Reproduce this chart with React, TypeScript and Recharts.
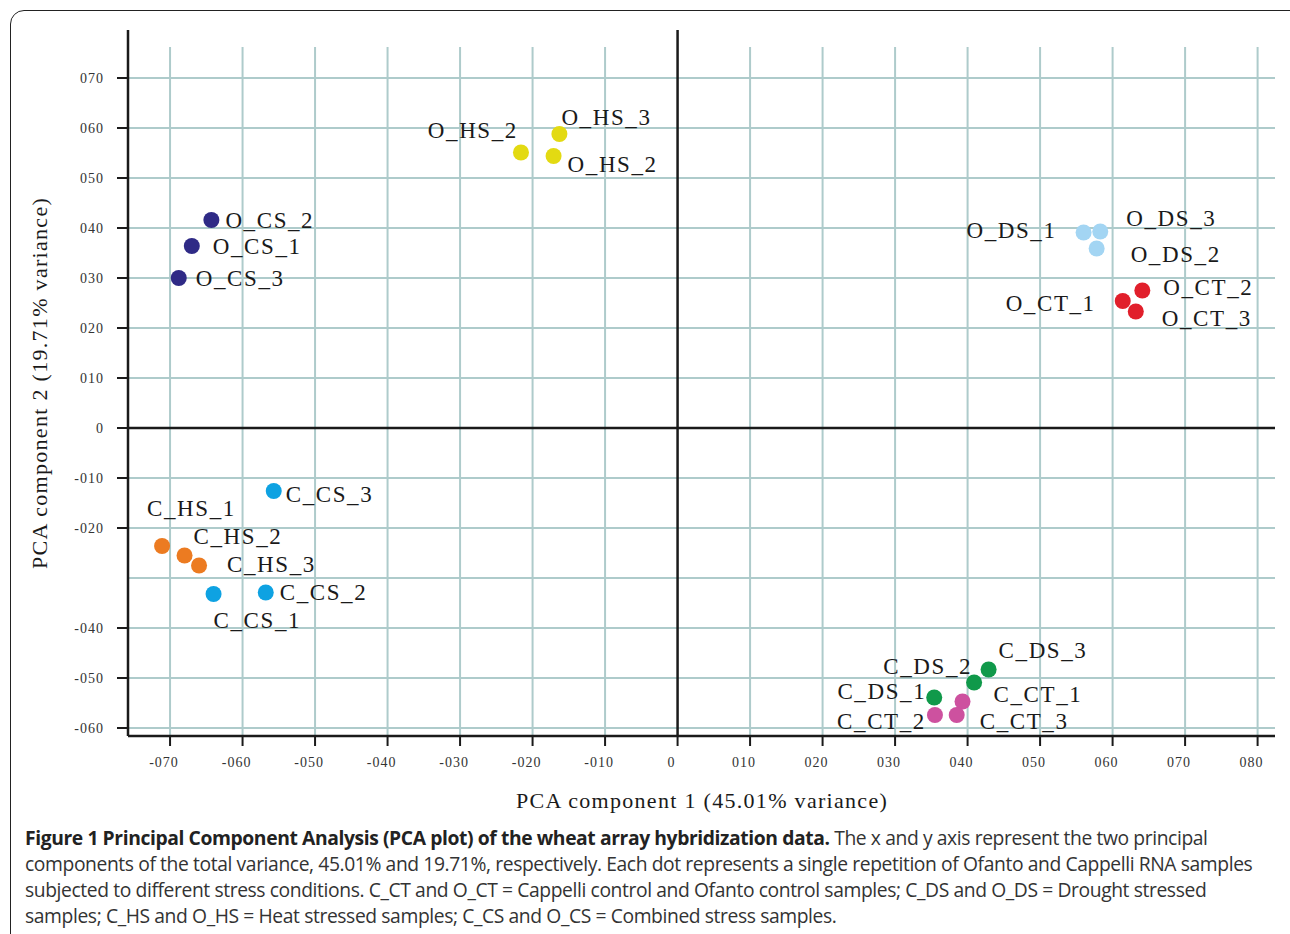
import React from "react";
import { ScatterChart, Scatter, XAxis, YAxis, ReferenceLine } from "recharts";

// sample coordinates
const oCS = [
  { name: "O_CS_2", x: -64.3, y: 41.6 },
  { name: "O_CS_1", x: -67.0, y: 36.4 },
  { name: "O_CS_3", x: -68.8, y: 30.0 },
];
const oHS = [
  { name: "O_HS_2", x: -21.6, y: 55.1 },
  { name: "O_HS_3", x: -16.3, y: 58.8 },
  { name: "O_HS_2", x: -17.1, y: 54.4 },
];
const oDS = [
  { name: "O_DS_1", x: 56.0, y: 39.1 },
  { name: "O_DS_3", x: 58.3, y: 39.3 },
  { name: "O_DS_2", x: 57.8, y: 35.9 },
];
const oCT = [
  { name: "O_CT_1", x: 61.4, y: 25.4 },
  { name: "O_CT_2", x: 64.1, y: 27.5 },
  { name: "O_CT_3", x: 63.2, y: 23.3 },
];
const cCS = [
  { name: "C_CS_3", x: -55.7, y: -12.6 },
  { name: "C_CS_1", x: -64.0, y: -33.2 },
  { name: "C_CS_2", x: -56.8, y: -32.9 },
];
const cHS = [
  { name: "C_HS_1", x: -71.1, y: -23.6 },
  { name: "C_HS_2", x: -68.0, y: -25.5 },
  { name: "C_HS_3", x: -66.0, y: -27.5 },
];
const cDS = [
  { name: "C_DS_3", x: 42.9, y: -48.3 },
  { name: "C_DS_2", x: 40.9, y: -50.9 },
  { name: "C_DS_1", x: 35.4, y: -53.9 },
];
const cCT = [
  { name: "C_CT_1", x: 39.3, y: -54.7 },
  { name: "C_CT_3", x: 38.5, y: -57.4 },
  { name: "C_CT_2", x: 35.5, y: -57.4 },
];

const xTicks = [-70, -60, -50, -40, -30, -20, -10, 0, 10, 20, 30, 40, 50, 60, 70, 80];
const yTicks = [70, 60, 50, 40, 30, 20, 10, 0, -10, -20, -40, -50, -60];
const gridX = [-70, -60, -50, -40, -30, -20, -10, 10, 20, 30, 40, 50, 60, 70, 80];
const gridY = [70, 60, 50, 40, 30, 20, 10, -10, -20, -30, -40, -50, -60];

const X_DOMAIN: [number, number] = [-75.8, 82.4];
const Y_DOMAIN: [number, number] = [-61.6, 79.6];
const GRID_TOP = 76.2;

const SERIF = "'Liberation Serif', 'Times New Roman', serif";
const GRID = "#aecbcb";
const INK = "#1a1a1a";

// label placement per point (pixel offset from dot, text anchor), same order as data
const placement: Record<string, [number, number, "start" | "end"][]> = {
  oCS: [[14, 0, "start"], [21, 0, "start"], [17, 0, "start"]],
  oHS: [[-3, -22, "end"], [2, -17, "start"], [14, 8, "start"]],
  oDS: [[-27, -2, "end"], [26, -13, "start"], [34, 6, "start"]],
  oCT: [[-27, 2, "end"], [21, -3, "start"], [26, 7, "start"]],
  cCS: [[12, 3, "start"], [0, 26, "start"], [14, 0, "start"]],
  cHS: [[-15, -38, "start"], [9, -19, "start"], [28, -1, "start"]],
  cDS: [[10, -19, "start"], [-2, -16, "end"], [-8, -6, "end"]],
  cCT: [[31, -7, "start"], [23, 6, "start"], [-9, 6, "end"]],
};

const series = [
  { key: "oCS", data: oCS, color: "#2f2a86" },
  { key: "oHS", data: oHS, color: "#e3da12" },
  { key: "oDS", data: oDS, color: "#a3d5f3" },
  { key: "oCT", data: oCT, color: "#e11f2b" },
  { key: "cCS", data: cCS, color: "#0ea2e2" },
  { key: "cHS", data: cHS, color: "#ec7b21" },
  { key: "cDS", data: cDS, color: "#10994a" },
  { key: "cCT", data: cCT, color: "#cd519f" },
];

const fmt = (v: number) =>
  v === 0 ? "0" : (v < 0 ? "-" : "") + String(Math.abs(v)).padStart(3, "0");

function makeDot(key: string, data: { name: string; x: number; y: number }[], color: string) {
  return (props: any) => {
    const { cx, cy, payload } = props;
    const i = data.findIndex((d) => d.x === payload.x && d.y === payload.y);
    const [dx, dy, anchor] = placement[key][i] || [12, 0, "start"];
    return (
      <g>
        <circle cx={cx} cy={cy} r={8} fill={color} />
        <text
          x={cx + dx}
          y={cy + dy + 7.8}
          textAnchor={anchor}
          fontFamily={SERIF}
          fontSize={23}
          letterSpacing={1.6}
          fill={INK}
        >
          {payload.name}
        </text>
      </g>
    );
  };
}

export default function App() {
  return (
    <div
      style={{
        position: "absolute",
        left: 0,
        top: 0,
        width: 1290,
        height: 934,
        overflow: "hidden",
        background: "#fff",
      }}
    >
      <div
        style={{
          position: "absolute",
          left: 10,
          top: 10,
          width: 1320,
          height: 960,
          border: "1.5px solid #222",
          borderRadius: 14,
        }}
      />
      <div style={{ position: "absolute", left: 0, top: 0 }}>
        <ScatterChart width={1290} height={790} margin={{ top: 30, right: 15, bottom: 0, left: 0 }}>
          <XAxis
            type="number"
            dataKey="x"
            domain={X_DOMAIN}
            ticks={xTicks}
            interval={0}
            allowDataOverflow
            tickFormatter={fmt}
            height={54}
            tickSize={10}
            tickMargin={11}
            axisLine={{ stroke: INK, strokeWidth: 2.5 }}
            tickLine={{ stroke: INK, strokeWidth: 2 }}
            tick={{ fill: "#333", fontSize: 14, fontFamily: SERIF, letterSpacing: 1, dx: -6 }}
          />
          <YAxis
            type="number"
            dataKey="y"
            domain={Y_DOMAIN}
            ticks={yTicks}
            interval={0}
            allowDataOverflow
            tickFormatter={fmt}
            width={128}
            tickSize={11}
            tickMargin={13}
            axisLine={{ stroke: INK, strokeWidth: 2.5 }}
            tickLine={{ stroke: INK, strokeWidth: 2 }}
            tick={{ fill: "#333", fontSize: 14, fontFamily: SERIF, letterSpacing: 1 }}
          />
          {gridX.map((v) => (
            <ReferenceLine
              key={`gx${v}`}
              segment={[
                { x: v, y: Y_DOMAIN[0] },
                { x: v, y: GRID_TOP },
              ]}
              stroke={GRID}
              strokeWidth={2}
            />
          ))}
          {gridY.map((v) => (
            <ReferenceLine
              key={`gy${v}`}
              segment={[
                { x: X_DOMAIN[0], y: v },
                { x: X_DOMAIN[1], y: v },
              ]}
              stroke={GRID}
              strokeWidth={2}
            />
          ))}
          <ReferenceLine x={0} stroke={INK} strokeWidth={2.5} />
          <ReferenceLine y={0} stroke={INK} strokeWidth={2.5} />
          {series.map((s) => (
            <Scatter
              key={s.key}
              data={s.data}
              fill={s.color}
              isAnimationActive={false}
              shape={makeDot(s.key, s.data, s.color)}
            />
          ))}
        </ScatterChart>
      </div>

      {/* axis titles */}
      <div
        style={{
          position: "absolute",
          left: 702,
          top: 801,
          transform: "translate(-50%, -50%)",
          fontFamily: SERIF,
          fontSize: 22,
          letterSpacing: 1.3,
          whiteSpace: "nowrap",
          color: INK,
        }}
      >
        PCA component 1 (45.01% variance)
      </div>
      <div
        style={{
          position: "absolute",
          left: 40,
          top: 383,
          transform: "translate(-50%, -50%) rotate(-90deg)",
          fontFamily: SERIF,
          fontSize: 22,
          letterSpacing: 1.3,
          whiteSpace: "nowrap",
          color: INK,
        }}
      >
        PCA component 2 (19.71% variance)
      </div>

      {/* caption */}
      <div
        style={{
          position: "absolute",
          left: 25,
          top: 825,
          fontFamily: "'Open Sans', sans-serif",
          fontSize: 19.3,
          lineHeight: "26px",
          color: "#333",
          letterSpacing: -0.4,
          whiteSpace: "nowrap",
        }}
      >
        <div>
          <b style={{ color: "#222" }}>
            Figure 1 Principal Component Analysis (PCA plot) of the wheat array hybridization data.
          </b>{" "}
          The x and y axis represent the two principal
        </div>
        <div>
          components of the total variance, 45.01% and 19.71%, respectively. Each dot represents a single
          repetition of Ofanto and Cappelli RNA samples
        </div>
        <div>
          subjected to different stress conditions. C_CT and O_CT = Cappelli control and Ofanto control
          samples; C_DS and O_DS = Drought stressed
        </div>
        <div>samples; C_HS and O_HS = Heat stressed samples; C_CS and O_CS = Combined stress samples.</div>
      </div>
    </div>
  );
}
